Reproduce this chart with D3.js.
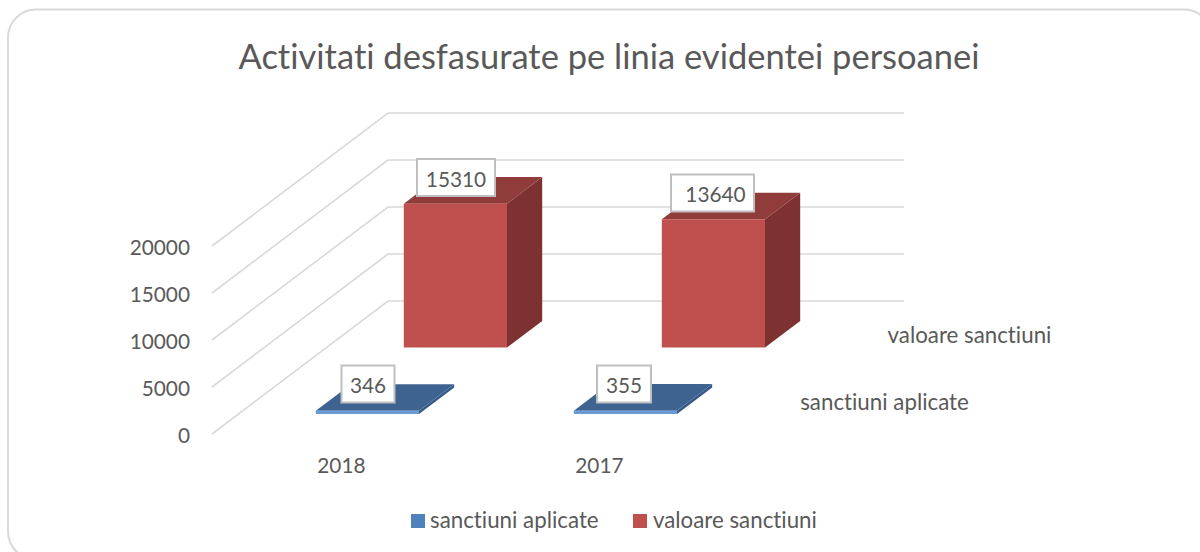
<!DOCTYPE html>
<html><head><meta charset="utf-8">
<style>html,body{margin:0;padding:0;background:#fff;overflow:hidden}svg{display:block}text{font-family:Lato,"Noto Sans",sans-serif;fill:#595959;font-variant-ligatures:none;font-feature-settings:"liga" 0,"clig" 0}</style>
<script src="https://cdn.jsdelivr.net/npm/d3@7"></script></head><body>
<svg id="c" width="1200" height="552"></svg>
<script>
const titleText = "Activitati desfasurate pe linia evidentei persoanei";
const categories = ["2018", "2017"];
const seriesNames = ["sanctiuni aplicate", "valoare sanctiuni"];
const sanctiuniAplicate = [346, 355];
const valoareSanctiuni = [15310, 13640];
const yTicks = [0, 5000, 10000, 15000, 20000];
const seriesValues = [sanctiuniAplicate, valoareSanctiuni];
const seriesColors = [
  {front:"#4f81bd", top:"#3f6390", side:"#355a87", edge:"#6b9bd6"},
  {front:"#c0504d", top:"#8f3c3a", side:"#7d3130", edge:"#d0706d"}
];

const svg = d3.select("#c");
const y = d3.scaleLinear().domain([0, 20000]).range([434, 246]);
const x = d3.scaleBand().domain(categories).range([212, 728]).paddingInner(0.6).paddingOuter(0.3);
const z = d3.scaleBand().domain(seriesNames).range([0, 1]).paddingInner(0.6).paddingOuter(0.3);
const depthX = 176, depthY = -133;
// oblique projection: x position, depth 0..1, value
const P = (px, d, v) => [px + depthX * d, y(v) + depthY * d];
const path = pts => "M" + pts.map(p => p.join(",")).join("L") + "Z";

// frame
svg.append("rect").attr("x", 8).attr("y", 9.5).attr("width", 1204).attr("height", 550)
  .attr("rx", 28).attr("fill", "#fff").attr("stroke", "#d9d9d9").attr("stroke-width", 2);

// title
svg.append("text").attr("x", 609).attr("y", 69).attr("text-anchor", "middle")
  .attr("font-size", 34.5).text(titleText);

// gridlines
yTicks.forEach(t => {
  const a = P(212, 0, t), b = P(212, 1, t), c = P(728, 1, t);
  svg.append("path").attr("d", d3.line()([a, b, c])).attr("fill", "none")
    .attr("stroke", "#d9d9d9").attr("stroke-width", 1.6);
});

// y tick labels
svg.append("g").selectAll("text").data(yTicks).join("text")
  .attr("x", 190).attr("y", d => y(d) + 8.5).attr("text-anchor", "end")
  .attr("font-size", 20.8).text(d => d);

// category labels
svg.append("g").selectAll("text").data(categories).join("text")
  .attr("x", d => x(d) + 52).attr("y", 473).attr("text-anchor", "middle")
  .attr("font-size", 20.8).text(d => d);

// depth axis labels
const depthLabels = [[884.5, 410], [969.5, 343]];
seriesNames.forEach((s, i) => {
  svg.append("text").attr("x", depthLabels[i][0]).attr("y", depthLabels[i][1])
    .attr("text-anchor", "middle").attr("font-size", 22.3).text(s);
});

// bars, back series first
[1, 0].forEach(si => {
  const s = seriesNames[si], col = seriesColors[si];
  const d0 = z(s), d1 = z(s) + z.bandwidth();
  categories.forEach((cat, ci) => {
    const v = seriesValues[si][ci];
    const l = x(cat), r = x(cat) + x.bandwidth();
    svg.append("path").attr("fill", col.side).attr("d", path([P(r,d0,0),P(r,d1,0),P(r,d1,v),P(r,d0,v)]));
    svg.append("path").attr("fill", col.top).attr("d", path([P(l,d0,v),P(r,d0,v),P(r,d1,v),P(l,d1,v)]));
    svg.append("path").attr("fill", si === 0 ? col.edge : col.front).attr("d", path([P(l,d0,0),P(r,d0,0),P(r,d0,v),P(l,d0,v)]));
  });
});

// data labels
const labelBoxes = [[[368, 384, 53, 0], [624, 384, 54, 0]], [[456, 177.5, 78, 0], [712.5, 193, 83, 3]]];
[1, 0].forEach(si => {
  categories.forEach((cat, ci) => {
    const [cx, cy, w, shift] = labelBoxes[si][ci];
    svg.append("rect").attr("x", cx - w / 2).attr("y", cy - 18.5).attr("width", w).attr("height", 37)
      .attr("fill", "#fff").attr("stroke", "#bfbfbf").attr("stroke-width", 2);
    svg.append("text").attr("x", cx + shift).attr("y", cy + 9).attr("text-anchor", "middle")
      .attr("font-size", 20.8).text(seriesValues[si][ci]);
  });
});

// legend
const legendPos = [[411, 430], [633, 653]];
seriesNames.forEach((s, i) => {
  svg.append("rect").attr("x", legendPos[i][0]).attr("y", 514).attr("width", 14).attr("height", 14)
    .attr("fill", seriesColors[i].front);
  svg.append("text").attr("x", legendPos[i][1]).attr("y", 528).attr("font-size", 22.3).text(s);
});
</script></body></html>
